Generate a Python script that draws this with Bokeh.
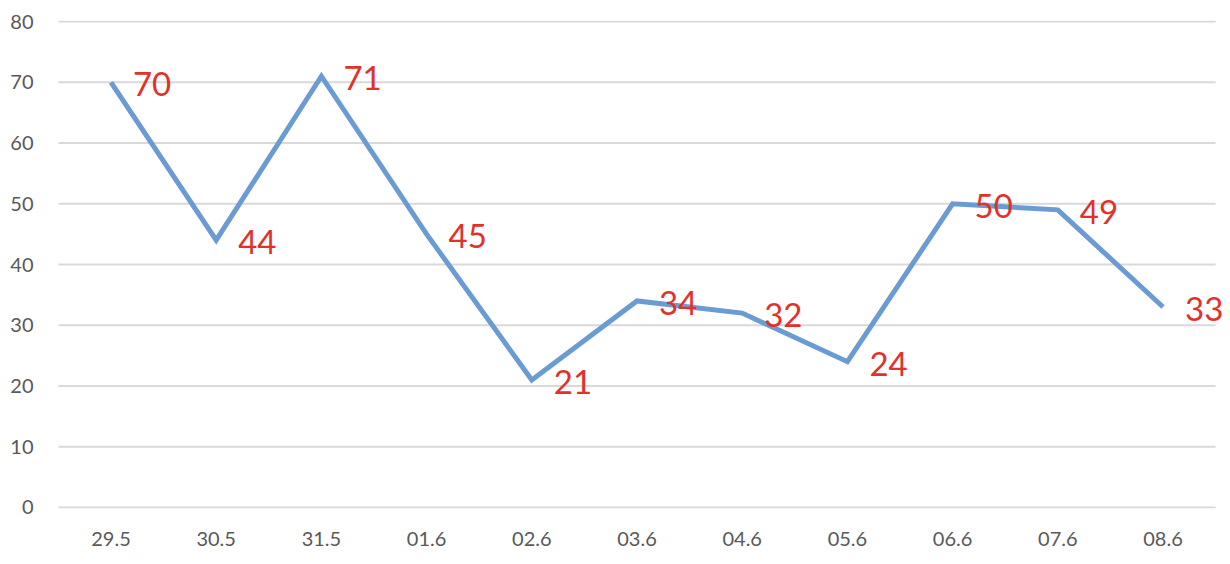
from bokeh.plotting import figure
from bokeh.models import ColumnDataSource, LabelSet, FactorRange, Range1d, FixedTicker
from bokeh.core.properties import value
from bokeh.embed import file_html
from bokeh.resources import INLINE

dates = ["29.5", "30.5", "31.5", "01.6", "02.6", "03.6", "04.6", "05.6", "06.6", "07.6", "08.6"]
values = [70, 44, 71, 45, 21, 34, 32, 24, 50, 49, 33]
labels = [str(v) for v in values]
y_ticks = list(range(0, 81, 10))

src = ColumnDataSource(dict(x=dates, y=values, label=labels))
grid_src = ColumnDataSource(dict(
    x0=[(dates[0], -0.5)] * len(y_ticks),
    x1=[(dates[-1], 0.5)] * len(y_ticks),
    y=y_ticks,
))

p = figure(width=1226, height=556,
           x_range=FactorRange(*dates, range_padding=0.1035, range_padding_units="absolute"),
           y_range=Range1d(-0.17, 80.17), output_backend="svg", toolbar_location=None,
           min_border_left=47, min_border_right=0, min_border_top=20, min_border_bottom=48)
p.outline_line_color = None
p.background_fill_color = "white"
p.border_fill_color = "white"

p.xgrid.grid_line_color = None
p.ygrid.grid_line_color = None
p.segment(x0="x0", y0="y", x1="x1", y1="y", source=grid_src,
          line_color="#D9D9D9", line_width=2)

p.line("x", "y", source=src, line_color="#6A9BD2", line_width=5, line_join="miter")

labs = LabelSet(x="x", y="y", text="label", source=src, x_offset=22, y_offset=-2,
                text_color="#E0312A", text_font=value("Lato"), text_font_size="33px",
                text_baseline="middle", text_align="left")
p.add_layout(labs)

p.yaxis.ticker = FixedTicker(ticks=y_ticks)

for ax in (p.xaxis[0], p.yaxis[0]):
    ax.axis_line_color = None
    ax.major_tick_line_color = None
    ax.minor_tick_line_color = None
    ax.major_label_text_font = "Lato"
    ax.major_label_text_font_size = "20px"
    ax.major_label_text_color = "#595959"
p.yaxis.major_label_standoff = 8
p.xaxis.major_label_standoff = 17

open("out.html", "w").write(file_html(p, INLINE))
